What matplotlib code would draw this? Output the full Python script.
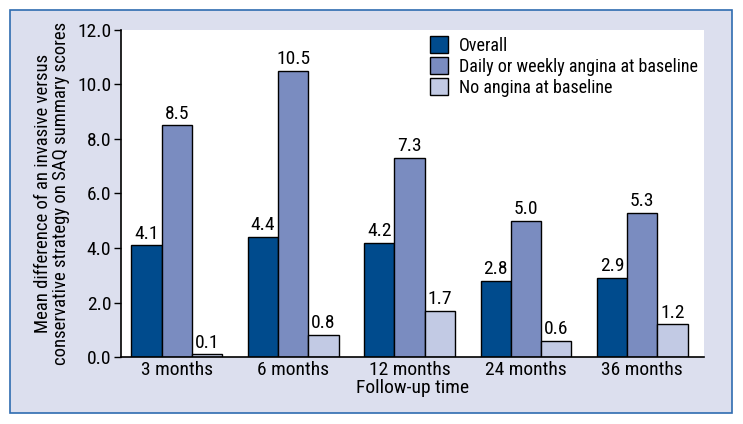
import matplotlib
matplotlib.use('Agg')
import matplotlib.pyplot as plt
from matplotlib.patches import Rectangle
import numpy as np

plt.rcParams['font.family'] = ['Roboto Condensed', 'DejaVu Sans']

periods = ['3 months', '6 months', '12 months', '24 months', '36 months']
overall = [4.1, 4.4, 4.2, 2.8, 2.9]
daily_weekly = [8.5, 10.5, 7.3, 5.0, 5.3]
no_angina = [0.1, 0.8, 1.7, 0.6, 1.2]
series_names = ['Overall', 'Daily or weekly angina at baseline', 'No angina at baseline']
colors = ['#004b8d', '#7a8cc0', '#c2cae4']

fig = plt.figure(figsize=(7.43, 4.24), dpi=100)
fig.patch.set_facecolor('white')
# framed lavender panel behind the axes
fig.add_artist(Rectangle((10 / 743, 1 - 413 / 424), 722 / 743, 403 / 424,
                         transform=fig.transFigure, facecolor='#dcdfee',
                         edgecolor='#2f6cb0', linewidth=1.2, zorder=-5))

ax = fig.add_axes([121 / 743, 1 - 357 / 424, 583 / 743, 327 / 424])
ax.set_zorder(1)
ax.set_facecolor('white')

x = np.arange(len(periods))
w = 0.26
for i, vals in enumerate([overall, daily_weekly, no_angina]):
    bars = ax.bar(x + (i - 1) * w, vals, w, color=colors[i], edgecolor='black',
                  linewidth=1, label=series_names[i])
    for b, v in zip(bars, vals):
        ax.text(b.get_x() + b.get_width() / 2, v + 0.1, f'{v:.1f}',
                ha='center', va='bottom', fontsize=14)

ax.set_xlim(-0.48, 4.53)
ax.set_ylim(0, 12)
ax.set_yticks(np.arange(0, 12.1, 2))
ax.set_yticklabels([f'{t:.1f}' for t in np.arange(0, 12.1, 2)], fontsize=14)
ax.set_xticks(x)
ax.set_xticklabels(periods, fontsize=14)
ax.tick_params(axis='x', length=0, pad=3)
ax.tick_params(axis='y', length=5, width=1, direction='out', pad=2)
for s in ['top', 'right']:
    ax.spines[s].set_visible(False)
ax.spines['left'].set_linewidth(1.2)
ax.spines['bottom'].set_linewidth(1.2)

ax.set_xlabel('Follow-up time', fontsize=14, labelpad=0)
ax.set_ylabel('Mean difference of an invasive versus\nconservative strategy on SAQ summary scores',
              fontsize=13.5, labelpad=5, linespacing=1.0)

ax.legend(loc='upper right', frameon=False, fontsize=13, handlelength=1.0,
          handleheight=1.0, handletextpad=0.6, labelspacing=0.15,
          bbox_to_anchor=(1.017, 1.03))

fig.savefig('out.png', dpi=100, facecolor=fig.get_facecolor())
